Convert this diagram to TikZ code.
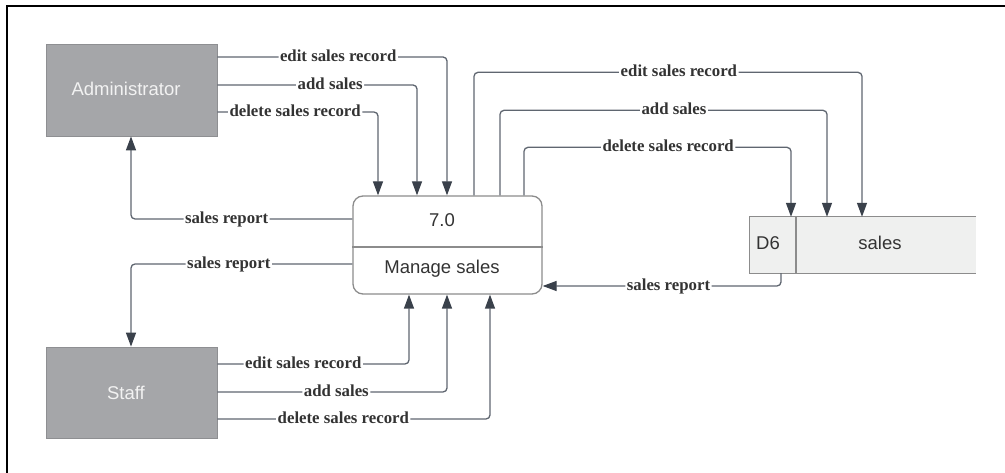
\documentclass[tikz,border=0pt]{standalone}
\usepackage{fontspec}
\setmainfont{Liberation Serif}
\setsansfont{Liberation Sans}
\usetikzlibrary{arrows.meta}

\definecolor{entityfill}{HTML}{A5A6A9}
\definecolor{entityline}{HTML}{8E8F92}
\definecolor{boxline}{HTML}{8C8C8C}
\definecolor{storefill}{HTML}{EFF0EF}
\definecolor{flowline}{HTML}{5F6670}
\definecolor{tipcol}{HTML}{3A414B}
\definecolor{labeltext}{HTML}{333333}
\definecolor{shapetext}{HTML}{333333}

\tikzset{
  entity/.style={draw=entityline, fill=entityfill, line width=0.8pt, inner sep=0pt},
  entitytext/.style={text=white!95!black, font=\sffamily\fontsize{18.5}{22}\selectfont, inner sep=0pt},
  procbox/.style={draw=boxline, fill=white, line width=1.3pt, rounded corners=10pt, inner sep=0pt},
  shapelabel/.style={text=shapetext, font=\sffamily\fontsize{18.5}{22}\selectfont, inner sep=0pt},
  divider/.style={draw=boxline, line width=1.3pt},
  flow/.style={draw=flowline, line width=1.3pt, rounded corners=4pt,
    -{Triangle[width=10pt,length=14pt,color=tipcol]}},
  flowlabel/.style={fill=white, text=labeltext,
    font=\fontsize{16.8}{20}\selectfont\bfseries,
    inner xsep=1.5pt, inner ysep=1pt, anchor=base, yshift=-4.5pt},
}

\begin{document}
\begin{tikzpicture}[x=1pt, y=-1pt]
\useasboundingbox (0,0) rectangle (1005,473);

% frame edges
\draw[line width=2pt, black] (6.7,473) -- (6.7,6) -- (1005,6);

% external entities
\node[entity, minimum width=171pt, minimum height=92pt] (admin) at (131.5,90) {};
\node[entitytext] (admintext) at ([xshift=-5.5pt,yshift=1pt]admin.center) {Administrator};
\node[entity, minimum width=171pt, minimum height=91pt] (staff) at (131.5,392.5) {};
\node[entitytext] (stafftext) at ([xshift=-5.5pt]staff.center) {Staff};

% process 7.0
\node[procbox, minimum width=189pt, minimum height=98pt] (process) at (447.5,245) {};
\draw[divider] ([yshift=-2pt]process.west) -- ([yshift=-2pt]process.east);
\node[shapelabel] (pid) at (442,220) {7.0};
\node[shapelabel] (pname) at (442,269) {Manage sales};

% data store D6, open at its right end
\node[fill=storefill, minimum width=226pt, minimum height=56pt, inner sep=0pt] (store) at (863,245) {};
\draw[divider] (store.north east) -- (store.north west) -- (store.south west) -- (store.south east);
\draw[divider] ([xshift=-67pt]store.north) -- ([xshift=-67pt]store.south);
\node[shapelabel] (storeid) at (768,243) {D6};
\node[shapelabel] (storename) at (880,243) {sales};

% Administrator -> process
\draw[flow] ([yshift=33pt]admin.east) -| node[flowlabel, pos=0.263] {edit sales record} ([xshift=-0.5pt]process.north);
\draw[flow] ([yshift=5pt]admin.east) -| node[flowlabel, pos=0.2825] {add sales} ([xshift=-30.5pt]process.north);
\draw[flow] ([yshift=-22pt]admin.east) -| node[flowlabel, pos=0.242] {delete sales record} ([xshift=-69.5pt]process.north);

% process -> Administrator / Staff
\draw[flow] ([yshift=26pt]process.west) -| node[flowlabel, pos=0.284] {sales report} ([xshift=-0.5pt]admin.south);
\draw[flow] ([yshift=-19pt]process.west) -| node[flowlabel, pos=0.279] {sales report} ([xshift=-0.5pt]staff.north);

% Staff -> process
\draw[flow] ([yshift=28.5pt]staff.east) -| node[flowlabel, pos=0.224] {edit sales record} ([xshift=-38.5pt]process.south);
\draw[flow] ([yshift=0.5pt]staff.east) -| node[flowlabel, pos=0.259] {add sales} ([xshift=-0.5pt]process.south);
\draw[flow] ([yshift=-26.5pt]staff.east) -| node[flowlabel, pos=0.231] {delete sales record} ([xshift=42.5pt]process.south);

% process -> data store
\draw[flow] ([xshift=26.5pt]process.north) -- ++(0,-123) -| node[flowlabel, pos=0.264] {edit sales record} ([xshift=-1pt]store.north);
\draw[flow] ([xshift=52.5pt]process.north) -- ++(0,-85) -| node[flowlabel, pos=0.266] {add sales} ([xshift=-36pt]store.north);
\draw[flow] ([xshift=76.5pt]process.north) -- ++(0,-48) -| node[flowlabel, pos=0.27] {delete sales record} ([xshift=-72pt]store.north);

% data store -> process
\draw[flow] ([xshift=-82pt]store.south) |- node[flowlabel, pos=0.736] {sales report} ([yshift=-41pt]process.east);
\end{tikzpicture}
\end{document}
